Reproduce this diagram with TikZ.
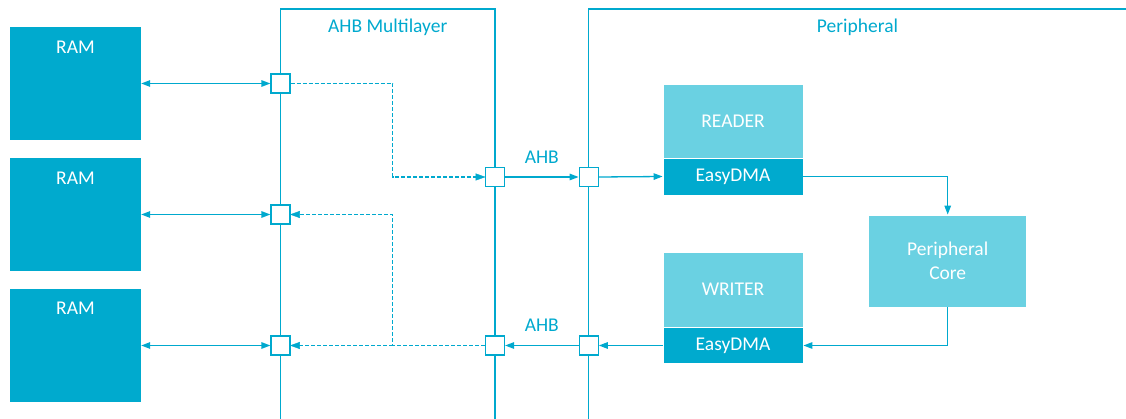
\documentclass[tikz,border=0pt]{standalone}
\usepackage{fontspec}
\setmainfont{Carlito}
\usetikzlibrary{arrows.meta}
\definecolor{cline}{RGB}{0,169,206}
\definecolor{dfill}{RGB}{0,170,206}
\definecolor{lfill}{RGB}{106,209,226}
\tikzset{
  conn/.style={draw=cline, line width=1.3pt, -{Triangle[length=9pt,width=6.5pt]}},
  bconn/.style={draw=cline, line width=1.3pt, {Triangle[length=9pt,width=6.5pt]}-{Triangle[length=9pt,width=6.5pt]}},
  dconn/.style={draw=cline, line width=1.2pt, dash pattern=on 4pt off 2pt},
  frame/.style={draw=cline, line width=1.3pt},
  sq/.style={draw=cline, fill=white, line width=1.2pt, minimum width=19pt, minimum height=19pt, inner sep=0pt},
  rambox/.style={fill=dfill, minimum width=131pt, minimum height=113pt, inner sep=0pt},
  lbox/.style={fill=lfill, draw=white, line width=0.8pt, text=white, inner sep=0pt, align=center, font=\fontsize{19.5}{24}\selectfont},
  dbox/.style={fill=dfill, draw=white, line width=0.8pt, text=white, inner sep=0pt, font=\fontsize{19.5}{24}\selectfont},
  lbl/.style={text=cline, font=\fontsize{19.5}{24}\selectfont, inner sep=0pt},
  wlbl/.style={text=white, font=\fontsize{19.5}{24}\selectfont, inner sep=0pt},
  tipw/.style={draw=cline, fill=cline}
}
\begin{document}
\begin{tikzpicture}[x=1pt,y=-1pt]
\useasboundingbox (0,0) rectangle (1126,419);
% frames
\draw[frame] (280.5,419) -- (280.5,9) -- (495,9) -- (495,419);
\draw[frame] (588.7,419) -- (588.7,9) -- (1126,9);
\node[lbl] (tml) at (387.7,27) {AHB Multilayer};
\node[lbl] (tper) at (857.5,27) {Peripheral};
% RAM
\node[rambox] (ram1) at (75.5,83.5) {};
\node[rambox] (ram2) at (75.5,214.5) {};
\node[rambox] (ram3) at (75.5,345.5) {};
\node[wlbl] (tr1) at (75.5,47) {RAM};
\node[wlbl] (tr2) at (75.5,178) {RAM};
\node[wlbl] (tr3) at (75.5,308) {RAM};
% squares
\node[sq] (s11) at (280.5,83.5) {};
\node[sq] (s12) at (280.5,214.5) {};
\node[sq] (s13) at (280.5,345.5) {};
\node[sq] (s21) at (495,177) {};
\node[sq] (s22) at (495,345.5) {};
\node[sq] (s31) at (588.7,177) {};
\node[sq] (s32) at (588.7,345.5) {};
% peripheral blocks
\node[lbox, minimum width=140pt, minimum height=74pt] (rd) at (733,121) {READER};
\node[dbox, minimum width=140pt, minimum height=37pt] (rde) at (733,176.5) {EasyDMA};
\node[lbox, minimum width=140pt, minimum height=75pt] (wr) at (733,289.5) {WRITER};
\node[dbox, minimum width=140pt, minimum height=36pt] (wde) at (733,345.5) {EasyDMA};
\node[lbox, minimum width=158pt, minimum height=92pt] (core) at (947.7,261) {Peripheral\\Core};
% RAM connections
\draw[bconn] (ram1.east) -- (s11.west);
\draw[bconn] (ram2.east) -- (s12.west);
\draw[bconn] (ram3.east) -- (s13.west);
% dashed
\coordinate (d1) at (392.7,83.5);
\coordinate (d2) at (392.7,345.5);
\draw[dconn] (s11.east) -- (d1) |- (s21.west);
\draw[dconn] (s22.west) -- (d2) |- (s12.east);
\draw[dconn] (d2) -- (s13.east);
\draw[tipw] (s21.west) -- ++(-9,-3.25) -- ++(0,6.5) -- cycle;
\draw[tipw] (s12.east) -- ++(9,-3.25) -- ++(0,6.5) -- cycle;
\draw[tipw] (s13.east) -- ++(9,-3.25) -- ++(0,6.5) -- cycle;
% AHB
\draw[conn] (s21.east) -- (s31.west);
\draw[conn] (s32.west) -- (s22.east);
\node[lbl] (ahb1) at (541.8,157) {AHB};
\node[lbl] (ahb2) at (541.8,325) {AHB};
% peripheral
\draw[conn] (s31.east) -- (rde.west);
\draw[conn] (rde.east) -| (core.north);
\draw[conn] (core.south) |- (wde.east);
\draw[conn] (wde.west) -- (s32.east);
\end{tikzpicture}
\end{document}
